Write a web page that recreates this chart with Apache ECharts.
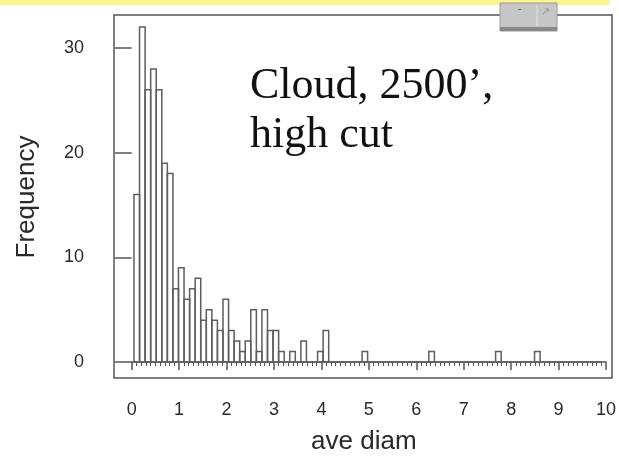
<!DOCTYPE html>
<html>
<head>
<meta charset="utf-8">
<script src="https://cdn.jsdelivr.net/npm/echarts@6/dist/echarts.min.js"></script>
<style>
html,body{margin:0;padding:0;background:#fff;}
#chart{width:619px;height:462px;}
</style>
</head>
<body>
<div id="chart"></div>
<script>
// ---- data ----
const binStart = 0.048;     // left edge of first bin (ave diam units)
const binWidth = 0.1173;    // bin width
const counts = [
  16, 32, 26, 28, 26, 19, 18, 7, 9, 6,
  7, 8, 4, 5, 4, 3, 6, 3, 2, 1,
  2, 5, 1, 5, 3, 3, 1, 0, 1, 0,
  2, 0, 0, 1, 3, 0, 0, 0, 0, 0,
  0, 1, 0, 0, 0, 0, 0, 0, 0, 0,
  0, 0, 0, 1, 0, 0, 0, 0, 0, 0,
  0, 0, 0, 0, 0, 1, 0, 0, 0, 0,
  0, 0, 1, 0, 0, 0, 0, 0, 0, 0,
  0, 0, 0, 0
];
const xTicks = [0, 1, 2, 3, 4, 5, 6, 7, 8, 9, 10];
const yTicks = [0, 10, 20, 30];
const xTitle = 'ave diam';
const yTitle = 'Frequency';
const noteLines = ['Cloud, 2500\u2019,', 'high cut'];

const bins = counts.map((c, i) => [binStart + i * binWidth, binStart + (i + 1) * binWidth, c]);

const chart = echarts.init(document.getElementById('chart'), null, {renderer: 'canvas'});
const axisColor = '#555';
const font = '"Liberation Sans", Arial, sans-serif';

chart.setOption({
  animation: false,
  backgroundColor: '#ffffff',
  grid: {left: 131.7, right: 11.7, top: 48, bottom: 100},
  xAxis: {
    type: 'value',
    min: xTicks[0], max: xTicks[xTicks.length - 1], interval: 1,
    offset: 20,
    axisLine: {show: true, lineStyle: {color: axisColor, width: 1.5}},
    axisTick: {show: true, length: 8, lineStyle: {color: axisColor, width: 1.5}},
    minorTick: {show: true, splitNumber: 10, length: 4, lineStyle: {color: axisColor, width: 1}},
    splitLine: {show: false},
    axisLabel: {fontSize: 18, color: '#2a2a2a', fontFamily: font, margin: 19},
    name: xTitle, nameLocation: 'middle', nameGap: 47,
    nameTextStyle: {fontSize: 26, color: '#2a2a2a', fontFamily: font, padding: [0, 10, 0, 0]}
  },
  yAxis: {
    type: 'value',
    min: yTicks[0], max: yTicks[yTicks.length - 1], interval: 10,
    offset: 17.7,
    axisLine: {show: false},
    axisTick: {show: true, length: 17, lineStyle: {color: axisColor, width: 1.5}},
    splitLine: {show: false},
    axisLabel: {fontSize: 18, color: '#2a2a2a', fontFamily: font, margin: 30},
    name: yTitle, nameLocation: 'middle', nameGap: 74,
    nameTextStyle: {fontSize: 26, color: '#2a2a2a', fontFamily: font, padding: [0, 0, 0, 16]}
  },
  graphic: [
    {type: 'rect', z: 1, shape: {x: 0, y: 0, width: 610, height: 5, r: [0, 3, 3, 0]}, style: {fill: '#f8f58e'}},
    {type: 'rect', z: 1, shape: {x: 114, y: 15, width: 498, height: 363}, style: {fill: 'none', stroke: axisColor, lineWidth: 1.5}},
    {type: 'rect', z: 5, shape: {x: 500, y: 3, width: 57, height: 28}, style: {fill: '#c6c6c6', stroke: '#9a9a9a', lineWidth: 1}},
    {type: 'rect', z: 5, shape: {x: 500, y: 27, width: 57, height: 4}, style: {fill: '#888888'}},
    {type: 'line', z: 6, shape: {x1: 537, y1: 5, x2: 537, y2: 26}, style: {stroke: '#e4e4e4', lineWidth: 1}},
    {type: 'text', z: 6, x: 518, y: 4, style: {text: '-', fill: '#555', font: '10px "Liberation Sans"'}},
    {type: 'text', z: 6, x: 541, y: 7, style: {text: '\u2197', fill: '#999', font: '11px "DejaVu Sans"'}},
    {type: 'text', z: 10, x: 250, y: 62, style: {
      text: noteLines.join('\n'), fill: '#111',
      font: '44px "Liberation Serif", "Times New Roman", serif',
      lineHeight: 49, verticalAlign: 'top', align: 'left'
    }}
  ],
  series: [{
    type: 'custom',
    clip: false,
    data: bins,
    encode: {x: [0, 1], y: 2},
    renderItem: function (params, api) {
      const x0 = api.value(0), x1 = api.value(1), c = api.value(2);
      const pTop = api.coord([x0, c]);
      const pBot = api.coord([x1, 0]);
      return {
        type: 'rect',
        shape: {x: pTop[0], y: pTop[1], width: pBot[0] - pTop[0], height: pBot[1] - pTop[1]},
        style: {fill: 'none', stroke: '#5e5e5e', lineWidth: 1.5}
      };
    }
  }]
});
</script>
</body>
</html>
